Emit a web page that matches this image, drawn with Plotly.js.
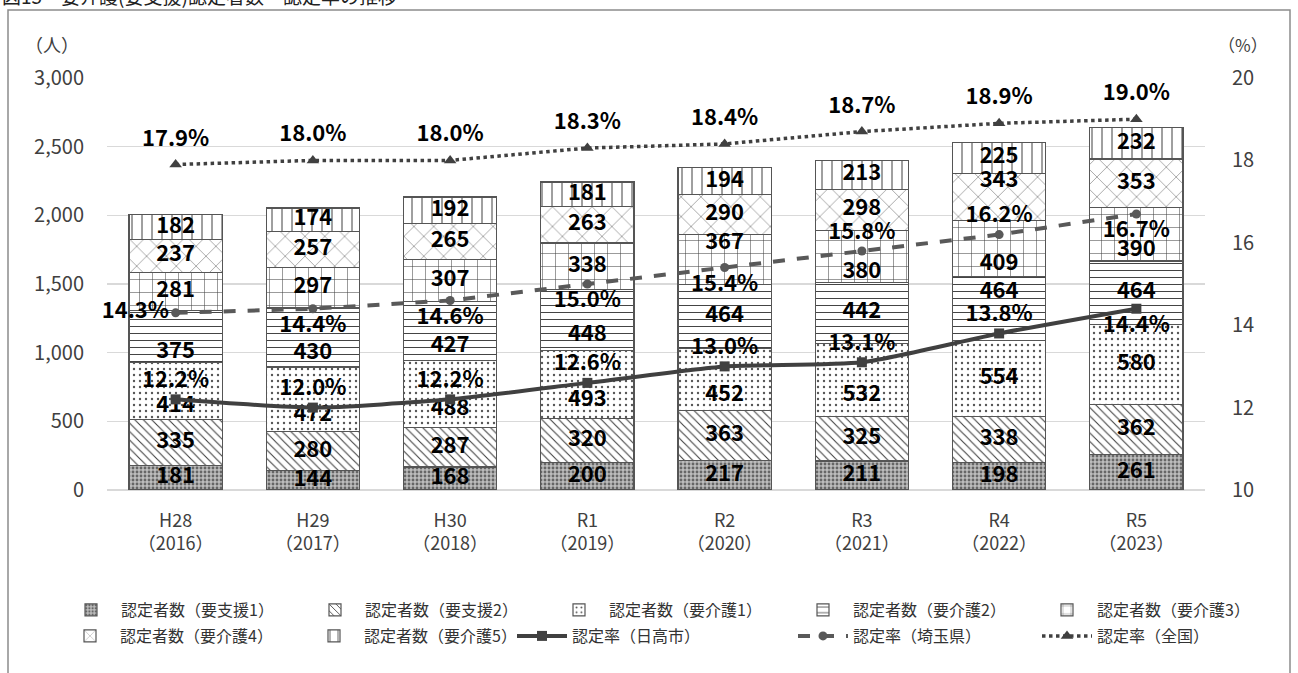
<!DOCTYPE html>
<html>
<head>
<meta charset="utf-8">
<script src="https://cdn.plot.ly/plotly-3.0.1.min.js"></script>
<style>
html,body{margin:0;padding:0;background:#fff;}
#chart{width:1298px;height:673px;}
</style>
</head>
<body>
<div id="chart"></div>
<script>
const categories = ["H28<br>（2016）","H29<br>（2017）","H30<br>（2018）","R1<br>（2019）","R2<br>（2020）","R3<br>（2021）","R4<br>（2022）","R5<br>（2023）"];

const shien1 = [181,144,168,200,217,211,198,261];
const shien2 = [335,280,287,320,363,325,338,362];
const kaigo1 = [414,472,488,493,452,532,554,580];
const kaigo2 = [375,430,427,448,464,442,464,464];
const kaigo3 = [281,297,307,338,367,380,409,390];
const kaigo4 = [237,257,265,263,290,298,343,353];
const kaigo5 = [182,174,192,181,194,213,225,232];

const rateHidaka = [12.2,12.0,12.2,12.6,13.0,13.1,13.8,14.4];
const rateSaitama = [14.3,14.4,14.6,15.0,15.4,15.8,16.2,16.7];
const rateZenkoku = [17.9,18.0,18.0,18.3,18.4,18.7,18.9,19.0];

const barNames = ["認定者数（要支援1）","認定者数（要支援2）","認定者数（要介護1）","認定者数（要介護2）","認定者数（要介護3）","認定者数（要介護4）","認定者数（要介護5）"];
const lineNames = ["認定率（日高市）","認定率（埼玉県）","認定率（全国）"];

// label placement keywords (style only)
const M = "middle center", TP = "top center", BT = "bottom center";
const barLabelPos = [
  [M,M,M,M,M,M,M,M],
  [M,M,M,M,M,M,M,M],
  [BT,BT,BT,BT,BT,BT,M,M],
  [BT,BT,BT,BT,M,M,TP,M],
  [M,M,M,M,TP,BT,BT,BT],
  [M,M,M,M,M,M,TP,M],
  [M,M,M,M,M,M,M,M]
];
const posHidaka = [TP,TP,TP,TP,TP,TP,TP,BT];
const posSaitama = ["middle left",BT,BT,BT,BT,TP,TP,BT];
const posZenkoku = [TP,TP,TP,TP,TP,TP,TP,TP];

const FONT = "'Noto Sans CJK JP', 'Noto Sans', sans-serif";
const DARK = "#404040";
const LABEL_SIZE = 22;

const barSeries = [shien1, shien2, kaigo1, kaigo2, kaigo3, kaigo4, kaigo5];
const patterns = [
  {shape:".", size:4, solidity:0.4, fgcolor:"#666666", bgcolor:"#bdbdbd", fillmode:"replace"},
  {shape:"\\", size:6, solidity:0.18, fgcolor:DARK, bgcolor:"#ffffff", fillmode:"replace"},
  {shape:".", size:6, solidity:0.12, fgcolor:"#555555", bgcolor:"#ffffff", fillmode:"replace"},
  {shape:"-", size:7, solidity:0.14, fgcolor:DARK, bgcolor:"#ffffff", fillmode:"replace"},
  {shape:"+", size:13, solidity:0.08, fgcolor:DARK, bgcolor:"#ffffff", fillmode:"replace"},
  {shape:"x", size:14, solidity:0.07, fgcolor:"#555555", bgcolor:"#ffffff", fillmode:"replace"},
  {shape:"|", size:10, solidity:0.1, fgcolor:DARK, bgcolor:"#ffffff", fillmode:"replace"}
];
const barLegend = ["legend","legend","legend","legend3","legend3","legend2","legend2"];

const labelFont = {family: FONT, size: LABEL_SIZE, color: "#000000", weight: 700};
const ghost = size => ({size: size, color: "rgba(0,0,0,0)", line: {width: 0}});

const traces = [];
const cum = categories.map(() => 0);
const labelTraces = [];
barSeries.forEach((vals, i) => {
  traces.push({
    type: "bar",
    name: barNames[i],
    x: categories,
    y: vals,
    textposition: "none",
    marker: {color: "#ffffff", pattern: patterns[i], line: {color: "#555555", width: 1.2}},
    width: 0.68,
    legend: barLegend[i],
    hoverinfo: "skip"
  });
  const mids = vals.map((v, j) => cum[j] + v / 2);
  vals.forEach((v, j) => { cum[j] += v; });
  labelTraces.push({
    type: "scatter", mode: "markers+text", x: categories, y: mids,
    marker: ghost(6),
    text: vals.map(String), textposition: barLabelPos[i], textfont: labelFont,
    showlegend: false, hoverinfo: "skip", cliponaxis: false
  });
});
labelTraces.forEach(t => traces.push(t));

const fmt = v => v.toFixed(1) + "%";

traces.push({
  type: "scatter", mode: "lines+markers+text", name: lineNames[0],
  x: categories, y: rateHidaka, yaxis: "y2",
  line: {color: DARK, width: 4, shape: "spline", smoothing: 0.6},
  marker: {symbol: "square", size: 10, color: DARK},
  text: rateHidaka.map(fmt), textposition: posHidaka, textfont: labelFont,
  legend: "legend5", hoverinfo: "skip", cliponaxis: false
});
traces.push({
  type: "scatter", mode: "lines+markers+text", name: lineNames[1],
  x: categories, y: rateSaitama, yaxis: "y2",
  line: {color: "#595959", width: 4, dash: "dash"},
  marker: {symbol: "circle", size: 9, color: "#595959"},
  text: rateSaitama.map(fmt), textposition: posSaitama, textfont: labelFont,
  legend: "legend4", hoverinfo: "skip", cliponaxis: false
});
traces.push({
  type: "scatter", mode: "lines+markers", name: lineNames[2],
  x: categories, y: rateZenkoku, yaxis: "y2",
  line: {color: DARK, width: 3.5, dash: "dot"},
  marker: {symbol: "triangle-up", size: 11, color: DARK},
  legend: "legend4", hoverinfo: "skip", cliponaxis: false
});
traces.push({
  type: "scatter", mode: "markers+text", x: categories, y: rateZenkoku, yaxis: "y2",
  marker: ghost(20),
  text: rateZenkoku.map(fmt), textposition: posZenkoku, textfont: labelFont,
  showlegend: false, hoverinfo: "skip", cliponaxis: false
});

const W = 1298, H = 673, L = 107, R = 93, T = 78, B = 183;
const pw = W - L - R, ph = H - T - B;
const px = x => (x - L) / pw;          // pixel x -> paper
const py = y => (H - B - y) / ph;      // pixel y -> paper

const legendCommon = {
  orientation: "h", xanchor: "left", yanchor: "middle",
  font: {family: FONT, size: 16, color: "#333333"},
  entrywidth: 179, entrywidthmode: "pixels", itemwidth: 50,
  traceorder: "normal", bgcolor: "rgba(0,0,0,0)"
};
const row1 = 610, row2 = 636;

const layout = {
  width: W, height: H,
  margin: {l: L, r: R, t: T, b: B, pad: 0},
  paper_bgcolor: "#ffffff", plot_bgcolor: "#ffffff",
  barmode: "stack",
  showlegend: true,
  font: {family: FONT, color: "#404040"},
  xaxis: {
    type: "category",
    tickfont: {family: FONT, size: 18, color: "#404040"},
    showgrid: false, zeroline: false, showline: false, ticks: "",
    ticklabelstandoff: 18
  },
  yaxis: {
    range: [0, 3000], dtick: 500, tickformat: ",d",
    tickfont: {family: FONT, size: 20, color: "#404040"},
    gridcolor: "#d9d9d9", gridwidth: 1.5, zeroline: true, zerolinecolor: "#d9d9d9", zerolinewidth: 1.5,
    showline: false, ticks: "", ticklabelstandoff: 22
  },
  yaxis2: {
    range: [10, 20], dtick: 2, overlaying: "y", side: "right",
    tickfont: {family: FONT, size: 20, color: "#404040"},
    showgrid: false, zeroline: false, showline: false, ticks: "", ticklabelstandoff: 26
  },
  legend:  Object.assign({}, legendCommon, {x: px(61),  y: py(row1)}),
  legend3: Object.assign({}, legendCommon, {x: px(793), y: py(row1)}),
  legend2: Object.assign({}, legendCommon, {x: px(60),  y: py(row2)}),
  legend5: Object.assign({}, legendCommon, {x: px(512), y: py(row2)}),
  legend4: Object.assign({}, legendCommon, {x: px(793), y: py(row2)}),
  annotations: [
    {text: "（人）", xref: "paper", yref: "paper", x: px(52), y: py(44), xanchor: "center", yanchor: "middle",
     showarrow: false, font: {family: FONT, size: 18, color: "#404040"}},
    {text: "（%）", xref: "paper", yref: "paper", x: px(1243), y: py(44), xanchor: "center", yanchor: "middle",
     showarrow: false, font: {family: FONT, size: 17, color: "#404040"}},
    {text: "図15　要介護(要支援)認定者数・認定率の推移", xref: "paper", yref: "paper", x: px(0), y: py(11),
     xanchor: "left", yanchor: "bottom", showarrow: false, font: {family: FONT, size: 19, color: "#222222"}}
  ],
  shapes: [
    {type: "rect", xref: "paper", yref: "paper", x0: px(8), x1: px(1290), y0: py(690), y1: py(10),
     line: {color: "#8c8c8c", width: 1.5}, fillcolor: "rgba(0,0,0,0)", layer: "below"}
  ]
};

Plotly.newPlot("chart", traces, layout, {displayModeBar: false, staticPlot: true});
</script>
</body>
</html>
